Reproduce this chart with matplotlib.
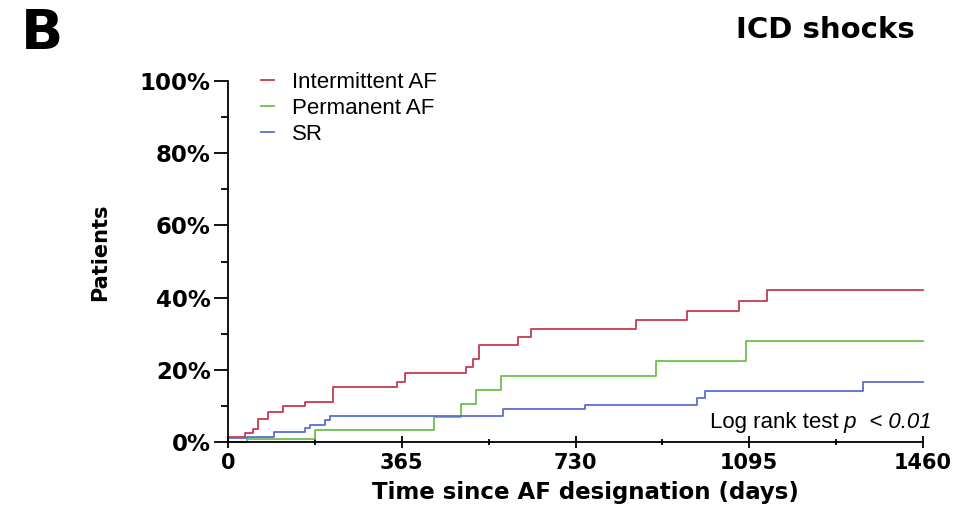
import matplotlib.pyplot as plt
from matplotlib.ticker import MultipleLocator, FixedLocator

# Kaplan-Meier style cumulative incidence of ICD shocks
red_days = [0, 36, 53, 64, 85, 116, 162, 221, 354, 372, 501, 515, 528, 610, 636, 858, 965, 1074, 1133, 1460]
red_pct = [1.4, 2.5, 3.6, 6.4, 8.3, 10.0, 11.2, 15.2, 16.8, 19.1, 20.9, 23.0, 26.9, 29.2, 31.2, 33.8, 36.4, 39.2, 42.1, 42.1]

green_days = [0, 39, 183, 433, 489, 522, 573, 900, 1088, 1460]
green_pct = [0.0, 0.8, 3.5, 7.1, 10.5, 14.5, 18.3, 22.6, 28.0, 28.0]

blue_days = [0, 39, 97, 162, 172, 204, 214, 578, 750, 986, 1002, 1334, 1460]
blue_pct = [1.1, 1.6, 2.8, 3.9, 4.8, 6.2, 7.4, 9.1, 10.4, 12.2, 14.3, 16.8, 16.8]

labels = ["Intermittent AF", "Permanent AF", "SR"]
x_ticks = [0, 365, 730, 1095, 1460]
y_ticks = [0, 20, 40, 60, 80, 100]

W, H = 963, 517
fig = plt.figure(figsize=(W / 100, H / 100), dpi=100)
ax = fig.add_axes([228 / W, 1 - 442.3 / H, 695 / W, 361.6 / H])

ax.step(red_days, red_pct, where="post", color="#c43b4e", lw=1.3, label=labels[0], clip_on=False)
ax.step(green_days, green_pct, where="post", color="#6cbf4c", lw=1.3, label=labels[1], clip_on=False)
ax.step(blue_days, blue_pct, where="post", color="#5a6dcf", lw=1.3, label=labels[2], clip_on=False)

ax.set_xlim(0, 1460)
ax.set_ylim(0, 100)
for s in ["top", "right"]:
    ax.spines[s].set_visible(False)
for s in ["left", "bottom"]:
    ax.spines[s].set_linewidth(1.3)

ax.xaxis.set_major_locator(FixedLocator(x_ticks))
ax.xaxis.set_minor_locator(MultipleLocator(182.5))
ax.yaxis.set_major_locator(FixedLocator(y_ticks))
ax.yaxis.set_minor_locator(MultipleLocator(10))
ax.set_xticklabels([str(v) for v in x_ticks])
ax.set_yticklabels([f"{v}%" for v in y_ticks])

ax.tick_params(axis="x", which="major", direction="inout", length=9, width=1.3, pad=3)
ax.tick_params(axis="x", which="minor", direction="inout", length=4.5, width=1.3)
ax.tick_params(axis="y", which="major", direction="out", length=10, width=1.3, pad=2.5)
ax.tick_params(axis="y", which="minor", direction="out", length=5, width=1.3)
for lab in ax.get_xticklabels():
    lab.set_fontfamily("DejaVu Sans")
    lab.set_fontweight("bold")
    lab.set_fontsize(15)
for lab in ax.get_yticklabels():
    lab.set_fontfamily("DejaVu Sans")
    lab.set_fontweight("bold")
    lab.set_fontsize(16.5)

leg = ax.legend(loc="upper left", bbox_to_anchor=(0.018, 1.08), frameon=False,
                handlelength=0.6, handletextpad=0.8, labelspacing=0.22,
                prop={"family": "Liberation Sans", "size": 16})

# log rank annotation
t1 = ax.text(1012, 5.4, "Log rank test", family="Liberation Sans", fontsize=16,
             ha="left", va="center")
t2 = ax.annotate(" p", xy=(1, 0.5), xycoords=t1, ha="left", va="center",
                 family="Liberation Sans", style="italic", fontsize=16)
t3 = ax.annotate("  < 0.01", xy=(1, 0.5), xycoords=t2, ha="left", va="center",
                 family="Liberation Sans", style="italic", fontsize=16)

fig.text(21 / W, 1 - 34 / H, "B", family="DejaVu Sans", weight="bold", fontsize=40,
         ha="left", va="center")
fig.text(915 / W, 1 - 30 / H, "ICD shocks", family="DejaVu Sans", weight="bold",
         fontsize=21, ha="right", va="center")
fig.text(100 / W, 1 - 252 / H, "Patients", family="DejaVu Sans", weight="bold",
         fontsize=15, rotation=90, ha="center", va="center")
fig.text(585 / W, 1 - 492 / H, "Time since AF designation (days)", family="DejaVu Sans",
         weight="bold", fontsize=16.5, ha="center", va="center")

fig.savefig("out.png", dpi=100)
